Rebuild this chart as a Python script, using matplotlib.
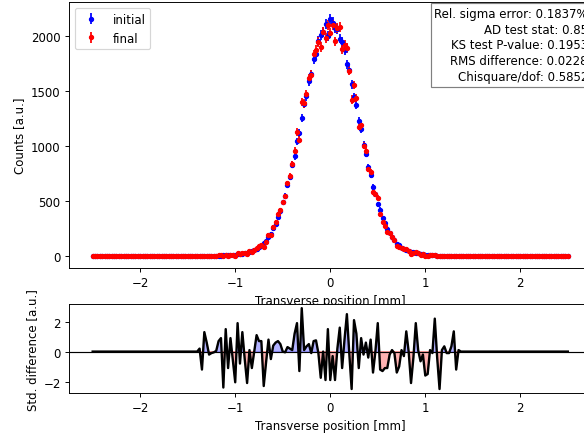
import numpy as np
import matplotlib.pyplot as plt

# bin centres of the transverse profile [mm]
x = np.linspace(-2.5, 2.5, 201)

# initial profile counts (bins -1.4 .. 1.4, zero outside)
counts_core = [
    0, 1, 2, 1, 2, 1, 2, 3, 2, 4, 3, 6, 5, 8, 7, 11, 13, 14, 20, 21,
    29, 30, 40, 43, 55, 61, 80, 90, 121, 137, 176, 204, 255, 291, 358, 405, 487, 546, 648, 715,
    830, 905, 1040, 1118, 1255, 1380, 1450, 1585, 1650, 1790, 1830, 1950, 2010, 2030, 2105, 2000, 2150, 2120, 2070, 2060,
    1975, 1945, 1870, 1740, 1690, 1560, 1440, 1370, 1230, 1150, 1010, 930, 810, 735, 630, 560, 470, 420, 345, 302,
    245, 212, 168, 144, 112, 96, 76, 66, 51, 46, 37, 33, 26, 23, 17, 15, 12, 9, 8, 6,
    5, 4, 4, 2, 3, 2, 1, 2, 1, 1, 1, 1, 0,
]

# standardised difference final vs initial
diff_core = [
    0.0, 0.2, -1.2, 1.3, 0.6, -0.2, -0.1, -0.05, 0.05, 0.7,
    0.9, -2.4, 1.5, -1.1, 0.9, -0.6, -2.05, 1.9, -0.8, 1.3,
    -0.5, -2.1, 0.1, -1.1, 0.0, 1.1, 0.7, 0.7, -2.3, -0.7,
    0.8, -0.5, 0.4, 0.6, 0.7, 0.5, 0.0, -0.05, 0.3, 0.2,
    0.1, 1.2, 1.9, -1.3, 2.9, 0.1, 0.35, 0.5, -0.1, 0.7,
    0.75, -0.1, -1.75, 0.0, -1.9, 1.5, -1.9, -0.3, -1.9, 0.2,
    1.6, -1.1, 0.8, 2.5, -0.1, -2.5, 2.1, 1.2, -1.1, 0.9,
    -0.2, 0.6, -0.4, 0.8, -1.4, 0.0, 1.9, -1.2, -1.3, -1.1,
    -1.1, -0.2, 0.1, -0.1, -1.4, -1.0, 0.1, -0.3, 1.35, 0.0,
    -2.1, -0.4, 1.9, 0.1, -0.65, -0.2, -1.6, -1.5, 0.1, -0.1,
    2.2, -0.4, -2.5, 0.1, 0.35, -0.1, -0.1, 0.35, 1.35, -1.2,
    0.1, 0.0, 0.0,
]

pad = [0] * 44
initial = np.array(pad + counts_core + pad, dtype=float)
std_diff = np.array(pad + diff_core + pad, dtype=float)
final = np.clip(np.round(initial + std_diff * np.sqrt(2 * initial)), 0, None)

stats_text = ("Rel. sigma error: 0.1837%\n"
              "AD test stat: 0.85\n"
              "KS test P-value: 0.1953\n"
              "RMS difference: 0.0228\n"
              "Chisquare/dof: 0.5852")

DPI = 85
fig = plt.figure(figsize=(584 / DPI, 434 / DPI), dpi=DPI)
ax0 = fig.add_axes([0.118, 0.380, 0.895, 0.613])
ax1 = fig.add_axes([0.118, 0.092, 0.895, 0.205])

ax0.errorbar(x, initial, yerr=np.sqrt(initial), fmt='.', ms=7, color='blue', label='initial')
ax0.errorbar(x, final, yerr=np.sqrt(final), fmt='.', ms=7, color='red', label='final')
ax0.set_xlabel('Transverse position [mm]')
ax0.set_ylabel('Counts [a.u.]')
ax0.legend(loc='upper left')
ax0.text(0.993, 0.982, stats_text, transform=ax0.transAxes, ha='right', va='top',
         multialignment='right', linespacing=1.28,
         bbox=dict(boxstyle='square', facecolor='white', edgecolor='gray'))

ax1.plot(x, std_diff, color='black', lw=2)
ax1.axhline(0, color='black', lw=1)
ax1.fill_between(x, std_diff, 0, where=std_diff > 0, color='blue', alpha=0.3, interpolate=True)
ax1.fill_between(x, std_diff, 0, where=std_diff < 0, color='red', alpha=0.3, interpolate=True)
ax1.set_xlim(ax0.get_xlim())
ax1.set_xlabel('Transverse position [mm]')
ax1.set_ylabel('Std. difference [a.u.]')

fig.savefig('out.png', dpi=DPI)
